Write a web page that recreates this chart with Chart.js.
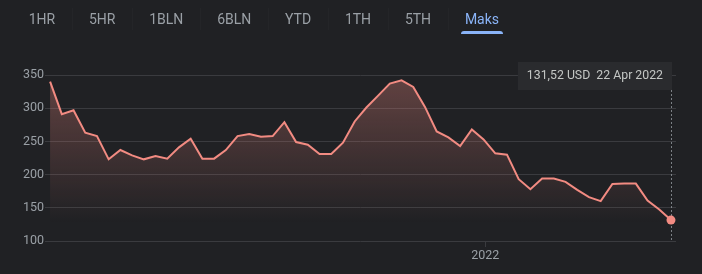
<!DOCTYPE html>
<html>
<head>
<meta charset="utf-8">
<title>Maks</title>
<script src="https://cdn.jsdelivr.net/npm/chart.js"></script>
<style>
  html, body { margin: 0; padding: 0; background: #202124; }
  body { width: 702px; height: 274px; position: relative; overflow: hidden; font-family: Roboto, Arial, sans-serif; }
  #tabs { position: absolute; left: 11.8px; top: 0; height: 36px; display: flex; z-index: 2; }
  .tab { position: relative; padding: 0 16.9px; line-height: 38px; font-size: 14px; color: #9aa0a6; }
  .tab + .tab::before { content: ''; position: absolute; left: 0; top: 8px; height: 22px; width: 1px; background: #242528; }
  .tab.on { color: #8ab4f8; }
  .tab.on::after { content: ''; position: absolute; left: 12.5px; right: 12.5px; top: 31px; height: 3px; background: #8ab4f8; border-radius: 3px 3px 0 0; }
  #wrap { position: absolute; left: 0; top: 0; width: 702px; height: 274px; }
</style>
</head>
<body>
<div id="tabs"></div>
<div id="wrap"><canvas id="priceChart" width="702" height="274"></canvas></div>

<script>
  // range buttons
  const tabLabels = ['1HR', '5HR', '1BLN', '6BLN', 'YTD', '1TH', '5TH', 'Maks'];
  const activeTab = 'Maks';

  // weekly closes
  const weeks = [
    '2021-04-16', '2021-04-23', '2021-04-30', '2021-05-07', '2021-05-14', '2021-05-21', '2021-05-28',
    '2021-06-04', '2021-06-11', '2021-06-18', '2021-06-25', '2021-07-02', '2021-07-09', '2021-07-16',
    '2021-07-23', '2021-07-30', '2021-08-06', '2021-08-13', '2021-08-20', '2021-08-27', '2021-09-03',
    '2021-09-10', '2021-09-17', '2021-09-24', '2021-10-01', '2021-10-08', '2021-10-15', '2021-10-22',
    '2021-10-29', '2021-11-05', '2021-11-12', '2021-11-19', '2021-11-26', '2021-12-03', '2021-12-10',
    '2021-12-17', '2021-12-24', '2021-12-31', '2022-01-07', '2022-01-14', '2022-01-21', '2022-01-28',
    '2022-02-04', '2022-02-11', '2022-02-18', '2022-02-25', '2022-03-04', '2022-03-11', '2022-03-18',
    '2022-03-25', '2022-04-01', '2022-04-08', '2022-04-15', '2022-04-22'
  ];
  const prices = [
    340, 291, 297, 263, 258, 223, 237, 229, 223, 228, 224, 241, 254, 224,
    224, 237, 258, 261, 257, 258, 279, 249, 245, 231, 231, 248, 280, 301,
    319, 337, 342, 332, 302, 265, 256, 243, 268, 253, 232, 230, 193, 178,
    194, 194, 189, 177, 166, 160, 186, 186.5, 186.5, 161, 147.5, 131.52
  ];
  const currency = 'USD';

  // axis ticks
  const yearTickDates = ['2022-01-01'];
  const yearTickLabels = ['2022'];
  const yMin = 100, yMax = 350, yStep = 50;
  const monthNames = ['Jan', 'Feb', 'Mar', 'Apr', 'Mei', 'Jun', 'Jul', 'Agu', 'Sep', 'Okt', 'Nov', 'Des'];

  const LINE = '#f28b82';
  const GRID = '#3a3b3f';
  const TEXT = '#9aa0a6';
  const FONT = 'Roboto, Arial, sans-serif';

  // build tabs
  const tabsEl = document.getElementById('tabs');
  tabLabels.forEach(t => {
    const s = document.createElement('span');
    s.className = 'tab' + (t === activeTab ? ' on' : '');
    s.textContent = t;
    tabsEl.appendChild(s);
  });

  const dayOf = d => (Date.parse(d) - Date.parse(weeks[0])) / 86400000;
  const last = prices.length - 1;

  function tipText() {
    const d = new Date(weeks[last] + 'T00:00:00Z');
    const price = prices[last].toFixed(2).replace('.', ',');
    return price + ' ' + currency + '  ' + d.getUTCDate() + ' ' + monthNames[d.getUTCMonth()] + ' ' + d.getUTCFullYear();
  }

  // dotted hover line + fixed tooltip on the last point
  const markerPlugin = {
    id: 'marker',
    beforeDatasetsDraw(chart) {
      const p = chart.getDatasetMeta(0).data[last];
      const c = chart.ctx;
      c.save();
      c.strokeStyle = 'rgba(154,160,166,0.75)';
      c.lineWidth = 1;
      c.setLineDash([2, 2]);
      c.beginPath();
      c.moveTo(Math.round(p.x) + 0.5, 90);
      c.lineTo(Math.round(p.x) + 0.5, chart.chartArea.bottom);
      c.stroke();
      c.restore();
    },
    afterDraw(chart) {
      const p = chart.getDatasetMeta(0).data[last];
      const c = chart.ctx;
      const txt = tipText();
      c.save();
      c.font = '12.3px ' + FONT;
      const w = c.measureText(txt).width + 18;
      const right = Math.round(p.x) + 1;
      c.fillStyle = '#2a2b2e';
      c.fillRect(right - w, 62, w, 28);
      c.fillStyle = '#c4c7c5';
      c.textBaseline = 'middle';
      c.fillText(txt, right - w + 9, 76);
      c.restore();
    }
  };

  const ctx = document.getElementById('priceChart').getContext('2d');
  new Chart(ctx, {
    type: 'line',
    data: {
      datasets: [{
        data: weeks.map((d, i) => ({ x: dayOf(d), y: prices[i] })),
        borderColor: LINE,
        borderWidth: 2,
        tension: 0,
        fill: 'start',
        backgroundColor: (c) => {
          const area = c.chart.chartArea;
          if (!area) return 'transparent';
          const g = c.chart.ctx.createLinearGradient(0, area.top, 0, area.bottom - 18);
          g.addColorStop(0, 'rgba(242,139,130,0.32)');
          g.addColorStop(1, 'rgba(242,139,130,0)');
          return g;
        },
        pointRadius: (c) => c.dataIndex === last ? 4.5 : 0,
        pointHoverRadius: 0,
        pointBackgroundColor: LINE,
        pointBorderWidth: 0
      }]
    },
    options: {
      responsive: false,
      animation: false,
      events: [],
      layout: { padding: { left: 22, right: 26, top: 75, bottom: 10 } },
      plugins: { legend: { display: false }, tooltip: { enabled: false } },
      scales: {
        x: {
          type: 'linear',
          min: -3,
          max: dayOf(weeks[last]) + 3,
          afterBuildTicks: (axis) => { axis.ticks = yearTickDates.map(d => ({ value: dayOf(d) })); },
          ticks: {
            color: TEXT,
            font: { size: 12.5, family: FONT },
            padding: 1,
            maxRotation: 0,
            autoSkip: false,
            callback: (v) => yearTickLabels[yearTickDates.findIndex(d => dayOf(d) === v)]
          },
          grid: { drawOnChartArea: false, drawTicks: true, tickLength: 6, color: GRID },
          border: { display: false }
        },
        y: {
          min: yMin,
          max: yMax,
          ticks: {
            stepSize: yStep,
            color: TEXT,
            font: { size: 12.5, family: FONT },
            padding: 1
          },
          grid: { color: GRID, drawTicks: false },
          border: { display: false }
        }
      }
    },
    plugins: [markerPlugin]
  });
</script>
</body>
</html>
